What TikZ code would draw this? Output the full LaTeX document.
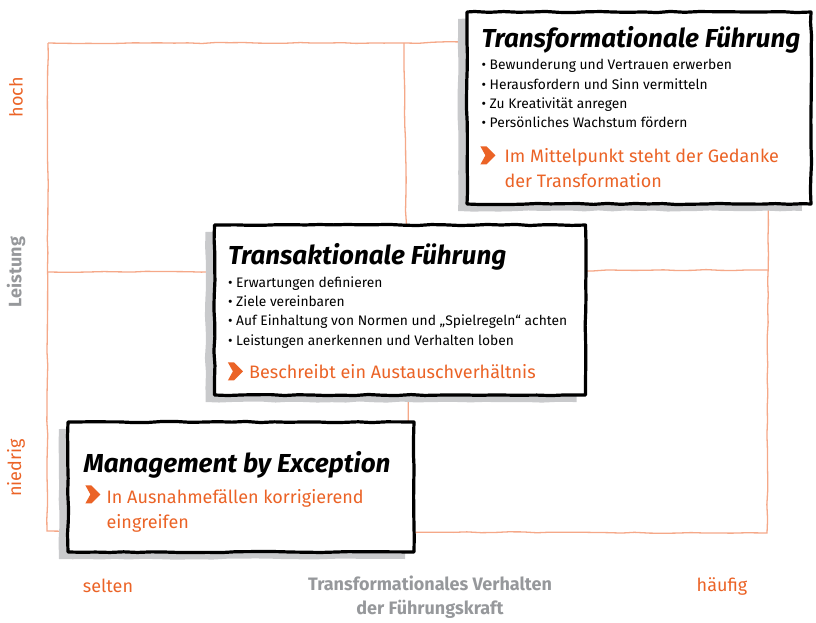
\documentclass[tikz,border=0pt]{standalone}
\usepackage{fontspec}
\setmainfont{Fira Sans}
\usetikzlibrary{positioning, calc, shadows, decorations.pathmorphing}
\definecolor{peach}{RGB}{245,168,136}
\definecolor{signal}{RGB}{235,99,38}
\definecolor{shade}{RGB}{201,202,204}
\definecolor{axisgray}{RGB}{150,152,155}

\begin{document}
\begin{tikzpicture}[x=1pt, y=-1pt,
		sketch/.style={decorate, decoration={random steps, segment length=14pt, amplitude=0.6pt}},
		gridline/.style={draw=peach, line width=1.3pt, sketch},
		card/.style={draw=black, line width=3.2pt, fill=white, rectangle, inner sep=0pt, line join=round, sketch, drop shadow={shadow xshift=-9pt, shadow yshift=-7pt, fill=shade, opacity=1}},
		headline/.style={anchor=west, inner sep=0pt, font=\fontsize{26}{28}\selectfont\bfseries\itshape},
		items/.style={anchor=north west, inner sep=0pt, align=left, font=\fontsize{13.8}{19.3}\selectfont},
		hint/.style={anchor=north west, inner sep=0pt, align=left, text=signal, font=\fontsize{18}{24.5}\selectfont},
		chevron/.pic={\fill[signal] (-7,-9) -- (-1,-9) -- (8,0) -- (-1,9) -- (-7,9) -- (-2,0) -- cycle;},
		level/.style={text=signal, font=\fontsize{18}{20}\selectfont},
		axis/.style={text=axisgray, align=center, font=\fontsize{18}{24}\selectfont\bfseries}]
		\useasboundingbox (0,0) rectangle (816,623);
		%grid
		\draw[gridline] (48,43) -- (405,43) -- (466,42);
		\draw[gridline] (48,43) -- (47,531) -- (767,533) -- (768,200);
		\draw[gridline] (404,43) -- (410,531);
		\draw[gridline] (48,272) -- (768,270);
		%boxes
		\node[card, minimum width=346pt, minimum height=130pt] (mbe) at (241,487) {};
		\node[card, minimum width=371pt, minimum height=170pt] (transak) at (400,310) {};
		\node[card, minimum width=344pt, minimum height=192pt] (trans) at (639,108) {};
		%texts
		\node[headline] (trans title) at ($(trans.north west)+(16,29)$) {Transformationale Führung};
		\node[items] (trans items) at ($(trans.north west)+(16,49)$) {• Bewunderung und Vertrauen erwerben\\• Herausfordern und Sinn vermitteln\\• Zu Kreativität anregen\\• Persönliches Wachstum fördern};
		\pic (trans chev) at ($(trans.north west)+(22,145)$) {chevron};
		\node[hint] (trans hint) at ($(trans.north west)+(39,138)$) {Im Mittelpunkt steht der Gedanke\\der Transformation};
		\node[headline] (transak title) at ($(transak.north west)+(15,33)$) {Transaktionale Führung};
		\node[items] (transak items) at ($(transak.north west)+(15,53)$) {• Erwartungen definieren\\• Ziele vereinbaren\\• Auf Einhaltung von Normen und „Spielregeln“ achten\\• Leistungen anerkennen und Verhalten loben};
		\pic (transak chev) at ($(transak.north west)+(22,148)$) {chevron};
		\node[hint] (transak hint) at ($(transak.north west)+(36,141)$) {Beschreibt ein Austauschverhältnis};
		\node[headline] (mbe title) at ($(mbe.north west)+(17,44)$) {Management by Exception};
		\pic (mbe chev) at ($(mbe.north west)+(26,74)$) {chevron};
		\node[hint] (mbe hint) at ($(mbe.north west)+(40,69)$) {In Ausnahmefällen korrigierend\\eingreifen};
		%axes
		\node[level, rotate=90] (hoch) at (16,97) {hoch};
		\node[axis, rotate=90] (leistung) at (16,272) {Leistung};
		\node[level, rotate=90] (niedrig) at (16,468) {niedrig};
		\node[level] (selten) at (108,586) {selten};
		\node[axis] (verhalten) at (430,597) {Transformationales Verhalten\\der Führungskraft};
		\node[level] (haeufig) at (722,586) {häufig};
\end{tikzpicture}
\end{document}
